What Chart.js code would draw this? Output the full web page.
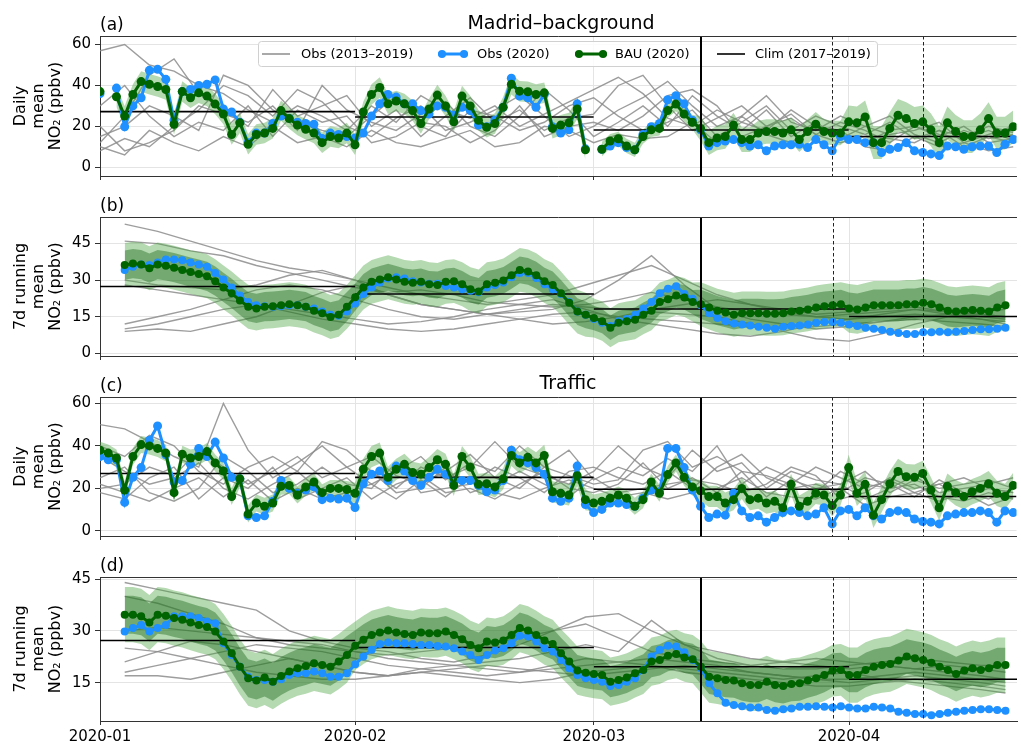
<!DOCTYPE html>
<html>
<head>
<meta charset="utf-8">
<script src="https://cdn.jsdelivr.net/npm/chart.js@4.4.1/dist/chart.umd.min.js"></script>
<style>
  body { margin: 0; background: #fff; width: 1021px; height: 743px; overflow: hidden; position: relative; }
  canvas { position: absolute; left: 0; }
</style>
</head>
<body>
<canvas id="pa" width="1021" height="189" style="top:0px"></canvas>
<canvas id="pb" width="1021" height="179" style="top:190px"></canvas>
<canvas id="pc" width="1021" height="179" style="top:370px"></canvas>
<canvas id="pd" width="1021" height="193" style="top:550px"></canvas>
<script>
// x axis is "days since 2020-01-01"
const monthTicks = [0, 31, 60, 91];
const monthLabels = ['2020-01', '2020-02', '2020-03', '2020-04'];
const monthEdges = [0, 31, 60, 91, 111.4];
const lockdownDay = 73;        // 2020-03-14
const phaseDays = [89, 100];   // dashed markers
const years = ['2013', '2014', '2015', '2016', '2017', '2018', '2019'];
const legendLabels = ['Obs (2013\u20132019)', 'Obs (2020)', 'BAU (2020)', 'Clim (2017\u20132019)'];

// gray lines (older years) sampled every few days
const grayDailyDays = [0,3,6,9,12,15,18,21,24,27,30,33,36,39,42,45,48,51,54,57,60,63,66,69,72,75,78,81,84,87,90,93,96,99,102,105,108,111];
const graySmoothDays = [3,7,11,15,19,23,27,31,35,39,43,47,51,55,59,63,67,71,75,79,83,87,91,95,99,103,107,110];

// ---------- (a) Madrid background, daily mean, days 0..111
const bauA = [
  37,null,34.5,25,35.6,41.9,40.6,39.5,38,21,
  37,34,36.4,34.8,30.9,26,16,21.7,11.2,16,
  16.7,19,27.7,23.8,20.6,18.6,16.7,12,15,14.3,
  16.7,11,27,35.6,39,31,32.4,31,27.7,21.4,
  28.5,35.3,30,22.2,34.8,30,23,19.5,21.4,29.3,
  40.6,37.2,36.9,35.6,36.4,19,20.6,21.7,28.5,8.5,
  null,8.8,12.8,13.9,10.4,8.5,15,18.3,19,27.7,
  30.9,26,22,19,12,14.3,15,20.6,13.5,13.5,
  16.7,17.5,17.5,16.7,18.3,13.5,17.5,21,17.5,16.7,
  16.7,22.2,21.7,24.6,12,12,19,25.4,23.8,21.4,
  22.2,18.3,12,21.7,17.5,15,15,18.3,23.8,16.7,
  16.7,19.8];
const obsA = [
  36,null,38.7,19.8,30,34,47.4,47.9,43,23,
  37,38,40,40.6,42.7,28.5,27,22,12,16.7,
  16.7,21.4,25,24,22,21.4,21,14,16.7,16,
  15,14.3,16.7,25,31,35.6,34.3,31,31,27.7,
  26,30,29.3,25.4,29.3,27.7,20.6,19.8,23,29.3,
  43.5,34.8,34,29.3,35.6,19.8,16.7,18.3,31,9,
  null,8.8,10.4,12,9.6,8.5,16,19.8,21.4,33,
  35,31,23,18.3,10.4,12,12.8,13.5,12,10.4,
  11,8,10.4,11,11,11.2,9.6,13.5,11,8,
  15,13.5,13.5,12,12,7.2,8.8,9.6,12,8,
  7.2,6.5,5.7,10.4,10,8.8,10,10.4,10.4,7.2,
  11.2,13.5];
const climA = [27.2, 24.6, 18.2, 15];
const grayA = [
  [57,60,50,47,40,36,28,22,30,25, 18,30,22,35,28,24,30,20,26,32, 38,44,36,24,20,28,22,30,18,25, 20,16,22,14,18,15,20,17],
  [12,25,45,53,36,28,20,38,25,30, 35,20,28,15,25,34,22,28,18,24, 26,40,45,30,18,24,30,20,26,16, 22,18,12,20,16,14,18,13],
  [8,14,10,20,28,40,35,25,38,32, 20,15,24,30,18,22,28,35,25,15, 20,28,34,42,30,20,25,35,22,18, 25,20,16,18,22,12,16,20],
  [20,8,12,18,30,26,22,30,18,40, 28,22,18,26,32,20,15,25,38,28, 15,22,30,20,35,25,18,28,15,22, 14,20,25,16,12,18,14,16],
  [15,20,30,25,18,45,40,28,22,18, 15,25,35,20,15,28,25,18,22,30, 34,25,18,22,28,15,22,18,28,20, 16,12,18,20,15,20,12,14],
  [30,40,25,15,22,18,30,15,28,22, 25,12,15,22,20,12,18,30,15,20, 22,18,25,35,38,30,15,20,24,16, 12,15,14,12,18,10,15,12],
  [10,6,18,12,8,15,10,20,12,15, 10,18,12,10,14,18,10,12,20,18, 12,16,14,15,22,12,25,16,12,20, 18,10,8,15,10,12,8,10]];

// ---------- (b) Madrid background, 7 d running mean, days 3..110
const bauB = [
  36.2,36.8,36.4,34.9,36.4,35.9,35.1,34.2,33.3,32.5,
  31.6,29.6,27,24.6,21.7,19.1,18.4,19.1,19.3,19.7,
  20.1,19.7,19.1,17.5,16.4,14.9,15.8,19.1,23,27,
  29.3,30.3,31.2,30.3,29.3,28.9,29.3,28.3,28,29.3,
  29.6,28.3,26.3,25.4,28.3,28.9,29.9,32,34.2,33.6,
  32,29.6,28,24.6,20.7,17.1,15.8,14.5,13.2,10.5,
  12.5,13.2,13.8,15.8,17.5,21,22.2,23.7,22.9,21,
  20.1,18.8,17.5,16.7,15.8,16.4,16.4,16.4,16.2,16.2,
  16.4,17.1,17.5,18,18.8,19.3,19.7,20.1,18.4,18,
  18.8,19.7,19.7,19.7,19.7,20.1,20.1,20.7,20.1,18.8,
  17.5,17.1,17.5,17.8,17.5,17.1,18.8,19.7];
const obsB = [
  34.2,35.5,36.4,36.2,37.2,38.5,38.5,38.2,37.2,36.4,
  35.5,32.9,30.3,27,23.7,21,19.7,19.3,19.1,19.3,
  19.7,19.7,19.1,18.4,17.1,15.8,15.4,17.1,20.4,24.3,
  27,29,30.7,31.2,30.7,29.6,29,28.5,28.5,27.6,
  27,26.3,25.7,25,27,28,29,31.2,32.9,32.9,
  30.9,28.3,26.3,24.3,21,17.1,15.8,14.1,12.5,11.2,
  13.2,14.1,15.8,18.4,21,24.6,26.5,27.5,24.3,22.4,
  19.7,16.4,14.5,13.2,12.2,11.8,11.4,10.9,10.5,10.1,
  10.9,11.2,11.4,11.8,12.5,12.8,12.8,12.5,11.8,11.2,
  10.5,10.1,9.6,8.8,8.3,7.9,7.9,8.6,8.6,8.8,
  8.6,8.8,9.2,9.6,9.9,9.9,10.1,10.5];
const climB = [27.4, 24.3, 18.2, 15.1];
const grayB = [
  [53,50,46,42,38,35,33,30,27,24, 22,20,22,24,28,32,36,30,24,20, 17,15,14,15,16,15,14,13],
  [46,45,42,40,36,33,30,27,25,26, 24,21,20,19,20,22,25,22,19,17, 16,15,16,17,18,17,16,15],
  [30,28,27,26,28,32,34,30,24,20, 18,16,17,18,22,30,40,28,18,14, 12,10,11,13,15,16,17,18],
  [12,15,18,22,26,28,26,22,18,15, 14,16,18,20,19,18,17,16,15,12, 9,6,5,8,12,15,16,15],
  [9,10,9,12,15,20,25,28,24,20, 18,16,14,12,13,15,18,20,22,20, 18,16,17,18,19,17,15,14],
  [10,12,15,18,20,18,16,14,12,13, 15,18,20,22,18,14,12,10,8,7, 9,12,14,16,18,16,14,12],
  [28,26,24,22,20,17,14,12,10,9, 10,12,14,16,17,15,14,13,12,11, 10,11,12,13,14,13,12,11]];

// ---------- (c) Traffic, daily mean, days 0..111
const bauC = [
  38,36.6,34.3,19.2,35,40.6,40,38.8,36.6,18,
  36.1,34.3,35,37.3,32,28.2,16.2,24.5,7.9,13.1,
  11.6,13.1,21,21.4,16.9,20.7,23,18,20,20,
  19.5,17.7,29,35,36.6,25.2,29,31.3,27.5,26.7,
  29.8,33.5,31.3,21.4,35,30,21.9,22.2,20.7,24.5,
  35.5,32,34.6,32,35.5,18.4,17.7,16.9,26,14.7,
  13.1,13.9,15.4,16.9,15.4,11.6,14.7,23,17.7,26.5,
  32,25.2,20.7,18.9,16.2,16.2,13.1,14.7,20,14.7,
  15.4,13.1,13.9,10.9,21.9,11.6,13.9,17.7,16.9,11.9,
  16.9,29.8,17.7,21.9,7.4,14.7,22.2,28,25.5,25.2,
  27,19.2,10.9,21,18,16.2,18.4,20,22.2,17.7,
  16.2,21.4];
const obsC = [
  35,33.5,33.5,13.4,25.2,29.8,42.6,49.4,35.8,23,
  23.7,31.3,38.8,35,41.8,34.3,25.2,24.5,7.1,6.3,
  7.1,13.9,23.7,20,17.7,19.2,20.7,14.7,15.4,15,
  15.4,11,22.2,26.7,28.2,23.7,30.5,28.2,23.7,21.4,
  25.2,29,26.7,23,23.7,23.7,21.4,18.4,19.2,23.7,
  38,33.5,32,29.8,26.7,15.4,13.9,15.4,30.5,12.4,
  8.6,10.1,13.1,13.1,12.4,11.6,15.4,19.2,18.4,38.8,
  38.8,29.8,19.2,11.6,6.3,7.9,7.4,17.7,9.4,6.3,
  7.1,4.1,6.3,8.6,9.4,8.6,7.1,7.9,10.9,3.3,
  9.4,10.1,7.1,10.9,7.1,5.6,8.6,9.4,8.6,5.6,
  4.4,4.1,3.3,7.1,7.9,8.6,8.6,9.4,8.6,4.1,
  9.4,8.6];
const climC = [27, 25.2, 19.6, 16.2];
const grayC = [
  [50,48,42,35,30,60,38,25,32,40, 30,22,28,35,24,32,28,40,30,26, 22,24,38,42,30,35,28,26,22,30, 25,20,24,18,22,25,20,18],
  [40,35,45,40,28,22,30,35,28,42, 38,28,20,30,25,30,42,30,26,22, 28,40,30,25,38,28,32,20,28,24, 22,28,18,24,20,22,24,20],
  [20,22,30,26,38,30,22,28,35,25, 30,35,26,22,28,36,25,20,30,38, 24,30,26,34,28,40,22,30,25,18, 28,22,20,26,18,20,22,25],
  [25,30,18,14,20,35,28,18,22,30, 22,20,32,18,20,22,30,25,18,28, 30,25,22,28,20,30,36,25,20,22, 18,25,22,16,24,18,15,20],
  [18,15,25,30,15,25,20,30,15,20, 25,15,22,26,18,20,15,22,28,20, 18,22,32,20,25,18,28,16,24,20, 22,15,20,22,16,14,18,15],
  [35,28,22,25,32,20,15,22,28,18, 15,28,18,20,30,18,22,28,22,16, 25,18,20,22,24,22,18,22,30,26, 15,18,25,20,22,16,20,18],
  [22,18,14,20,25,16,24,14,20,15, 18,22,15,24,16,25,18,15,20,24, 20,16,18,15,18,20,25,18,16,15, 20,12,16,18,14,18,12,16]];

// ---------- (d) Traffic, 7 d running mean, days 3..110
const bauD = [
  34.7,34.7,34.2,32.4,34.7,34.4,33.7,33.2,32.4,31.7,
  31.1,29.8,26.9,23.5,19.6,16.3,15.6,16.5,15.3,16.9,
  18.2,19.2,19.8,20.6,20.1,19.6,21.1,23,25.7,27.4,
  28.8,29.5,30.1,29.5,29.1,28.8,29.5,29.3,29.3,29.8,
  28.8,27.6,25.9,25,26.9,26.6,27.2,28.8,30.8,30.1,
  28.8,27.2,26.2,23.5,21.1,18.5,17.9,17.5,17.2,15.3,
  15.8,16.5,17.7,18.7,21.1,21.6,22.8,23.3,22.3,21.8,
  19.6,16.7,16.3,15.8,15.6,14.8,14.3,14.3,15.3,14.3,
  14,14.6,14.8,15.6,16.3,17.2,18.5,18.7,17.2,17.2,
  18.7,19.6,20.1,20.4,21.4,22.6,22.1,21.6,20.8,19.6,
  18.7,17.5,18.5,19.2,18.7,19.2,20.1,20.1];
const obsD = [
  29.8,30.8,31.7,29.8,30.8,31.7,34.2,34.2,34.2,33.7,
  32.7,32.2,26.4,23,19.6,16.7,15.8,15.8,15.3,16,
  17.2,17.7,17.7,18.2,17.7,16.7,16.7,17.7,20.3,22.6,
  24.5,26.2,26.6,26.4,26.4,26.2,25.9,25.9,25.6,25.5,
  25,24,23,21.6,23,24.3,25,26.4,28.6,28.4,
  26.9,25,24,21.6,19.2,17.2,16.3,15.8,15.3,14,
  14.3,15.3,16.3,18.7,22.6,24.5,25.7,25.5,23.8,21.6,
  19.2,14.8,11.9,9.2,8.5,8.2,7.8,7.8,7.1,6.9,
  7.3,7.5,8,8,8.2,8,7.8,8.2,7.8,7.5,
  7.5,8,7.8,7.5,6.6,6.3,5.9,5.9,5.6,5.9,
  6.3,6.6,6.9,7.1,7.3,7.3,7.1,6.9];
const climD = [27.2, 25.2, 19.6, 16];
const grayD = [
  [44,42,40,38,36,30,27,25,24,22, 21,23,26,30,34,35,30,26,24,22, 21,20,19,20,19,18,17,16],
  [40,38,35,32,28,26,25,24,23,24, 25,26,28,30,32,28,24,22,21,20, 21,22,21,20,19,20,19,18],
  [30,31,30,29,28,27,26,24,22,21, 20,21,22,24,26,24,33,26,22,20, 19,19,20,21,22,21,20,20],
  [21,24,27,26,24,22,20,18,17,19, 20,19,18,19,20,21,22,21,20,18, 17,16,16,17,18,17,16,15],
  [18,20,22,24,26,25,24,22,20,19, 18,17,18,20,22,21,20,19,18,17, 16,17,18,16,15,14,13,12],
  [17,17,16,18,20,22,20,18,17,18, 19,20,19,18,17,18,19,20,19,18, 17,16,15,16,17,16,15,14],
  [25,24,22,20,18,17,16,16,17,18, 17,16,15,16,18,19,20,18,17,16, 15,14,14,15,16,15,14,13]];

// BAU uncertainty half-widths by period (periods start at these days)
const spreadStarts = [0, 31, 60, 73, 91];
const spreadA = [5, 5, 3.5, 6, 8];
const spreadC = [4, 5, 4, 5, 6];
const spreadBOuter = [9, 9, 8, 9, 10];
const spreadBInner = [6, 5.5, 5, 6, 6.5];
const spreadDOuter = [8, 7, 7, 7.5, 8];
const spreadDInner = [5.5, 4.5, 4.5, 5, 5];

const BLUE = '#1e90ff', GREEN = '#006400', GRAY = 'rgba(140,140,140,0.85)', GRID = '#e4e4e4';
const BAND_LIGHT = 'rgba(70,160,60,0.4)', BAND_DARK = 'rgba(20,100,20,0.4)';

Chart.defaults.font.family = '"DejaVu Sans"';
Chart.defaults.font.size = 15;
Chart.defaults.color = '#000';

function pts(vals, start) { return vals.map((v, i) => ({x: start + i, y: v})); }
function grayPts(vals, days) { return vals.map((v, i) => ({x: days[i], y: v})); }
function climPts(vals) {
  const out = [];
  vals.forEach((v, i) => {
    if (i) out.push({x: monthEdges[i], y: null});
    out.push({x: monthEdges[i], y: v}, {x: monthEdges[i + 1], y: v});
  });
  return out;
}
function spreadAt(day, arr) {
  let k = 0;
  spreadStarts.forEach((s, i) => { if (day >= s) k = i; });
  return arr[k];
}
function bandPts(vals, start, spread, sign) {
  return vals.map((v, i) => ({x: start + i, y: v == null ? null : v + sign * spreadAt(start + i, spread)}));
}

function makeDatasets(p) {
  const ds = [];
  ds.push({data: pts(p.bau, p.start), borderColor: GREEN, backgroundColor: GREEN,
    borderWidth: 3, pointRadius: p.r, pointBorderWidth: 0, order: 1});
  ds.push({data: pts(p.obs, p.start), borderColor: BLUE, backgroundColor: BLUE,
    borderWidth: 3, pointRadius: p.r, pointBorderWidth: 0, order: 2});
  ds.push({data: climPts(p.clim), borderColor: '#000', borderWidth: 1.6, pointRadius: 0, order: 3});
  p.bands.forEach((b, k) => {
    ds.push({data: bandPts(p.bau, p.start, b.w, -1), borderWidth: 0, pointRadius: 0, fill: false, order: 5 - k});
    ds.push({data: bandPts(p.bau, p.start, b.w, 1), borderWidth: 0, pointRadius: 0, fill: '-1',
      backgroundColor: b.color, order: 5 - k});
  });
  p.gray.forEach(g => ds.push({data: grayPts(g, p.grayDays), borderColor: GRAY, borderWidth: 1.4,
    pointRadius: 0, order: 10}));
  return ds;
}

const decor = {
  id: 'decor',
  afterDatasetsDraw(chart, args, o) {
    const {ctx, chartArea: a, scales: {x}} = chart;
    ctx.save();
    if (o.legend) drawLegend(ctx);
    ctx.strokeStyle = '#000';
    ctx.lineWidth = 2;
    let px = Math.round(x.getPixelForValue(lockdownDay));
    ctx.beginPath(); ctx.moveTo(px, a.top); ctx.lineTo(px, a.bottom); ctx.stroke();
    ctx.strokeStyle = '#222';
    ctx.lineWidth = 1;
    ctx.setLineDash([3.5, 2.5]);
    phaseDays.forEach(d => {
      const q = Math.round(x.getPixelForValue(d)) + 0.5;
      ctx.beginPath(); ctx.moveTo(q, a.top); ctx.lineTo(q, a.bottom); ctx.stroke();
    });
    ctx.setLineDash([]);
    ctx.strokeStyle = '#333';
    ctx.beginPath(); ctx.moveTo(a.left, a.top + 0.5); ctx.lineTo(a.right, a.top + 0.5); ctx.stroke();
    ctx.fillStyle = '#000';
    ctx.textAlign = 'left';
    ctx.textBaseline = 'alphabetic';
    ctx.font = '17px "DejaVu Sans"';
    ctx.fillText(o.tag, a.left, a.top - 6);
    if (o.title) {
      ctx.font = '19px "DejaVu Sans"';
      ctx.textAlign = 'center';
      ctx.fillText(o.title, o.titleX, a.top - o.titleGap);
    }
    ctx.restore();
  }
};

function drawLegend(ctx) {
  ctx.fillStyle = 'rgba(255,255,255,0.85)';
  ctx.strokeStyle = '#d0d0d0';
  ctx.lineWidth = 1;
  ctx.beginPath(); ctx.roundRect(258.5, 41.5, 619, 25, 3); ctx.fill(); ctx.stroke();
  const items = [
    {x1: 262, x2: 290, color: 'rgb(140,140,140)', lw: 1.5, dots: false, tx: 301},
    {x1: 438, x2: 468, color: BLUE, lw: 3, dots: true, tx: 477},
    {x1: 575, x2: 607, color: GREEN, lw: 3, dots: true, tx: 615},
    {x1: 717, x2: 745, color: '#000', lw: 1.6, dots: false, tx: 755}];
  const y = 54;
  ctx.font = '13px "DejaVu Sans"';
  ctx.textBaseline = 'middle';
  ctx.textAlign = 'left';
  items.forEach((it, i) => {
    ctx.strokeStyle = it.color; ctx.lineWidth = it.lw;
    ctx.beginPath(); ctx.moveTo(it.x1, y); ctx.lineTo(it.x2, y); ctx.stroke();
    if (it.dots) {
      ctx.fillStyle = it.color;
      [it.x1 + 4, it.x2 - 4].forEach(cx => { ctx.beginPath(); ctx.arc(cx, y, 4, 0, Math.PI * 2); ctx.fill(); });
    }
    ctx.fillStyle = '#000';
    ctx.fillText(legendLabels[i], it.tx, y + 1);
  });
}

function makeChart(id, p) {
  new Chart(document.getElementById(id), {
    type: 'line',
    data: {datasets: makeDatasets(p)},
    plugins: [decor],
    options: {
      responsive: false,
      animation: false,
      events: [],
      layout: {padding: {top: p.padTop, left: 0, right: 0, bottom: 0}},
      plugins: {legend: {display: false}, tooltip: {enabled: false}, decor: p.decor},
      scales: {
        x: {
          type: 'linear', min: 0, max: monthEdges[4],
          afterBuildTicks: s => { s.ticks = monthTicks.map(v => ({value: v})); },
          afterFit: s => { s.height = p.xH; },
          ticks: {display: p.showX, autoSkip: false, maxRotation: 0, padding: 3,
            callback: (v, i) => monthLabels[i]},
          grid: {color: GRID, tickColor: '#333', tickLength: 4},
          border: {color: '#333', width: 1}
        },
        y: {
          min: p.yMin, max: p.yMax,
          afterBuildTicks: s => { s.ticks = p.yTicks.map(v => ({value: v})); },
          afterFit: s => { s.width = 100; },
          ticks: {padding: 4},
          grid: {color: GRID, tickColor: '#333', tickLength: 5},
          border: {color: '#333', width: 1},
          title: {display: true, text: p.yTitle, font: {size: 16, lineHeight: 1.1},
            padding: {top: 12, bottom: 0}}
        }
      }
    }
  });
}

const dailyTitle = ['Daily', 'mean', 'NO\u2082 (ppbv)'];
const smoothTitle = ['7d running', 'mean', 'NO\u2082 (ppbv)'];

makeChart('pa', {bau: bauA, obs: obsA, start: 0, r: 4.5, clim: climA, gray: grayA, grayDays: grayDailyDays,
  bands: [{w: spreadA, color: BAND_LIGHT}], padTop: 36, xH: 8, showX: false,
  yMin: -4.3, yMax: 64.2, yTicks: [0, 20, 40, 60], yTitle: dailyTitle,
  decor: {tag: '(a)', title: 'Madrid\u2013background', titleX: 561, titleGap: 7, legend: true}});
makeChart('pb', {bau: bauB, obs: obsB, start: 3, r: 4, clim: climB, gray: grayB, grayDays: graySmoothDays,
  bands: [{w: spreadBOuter, color: BAND_LIGHT}, {w: spreadBInner, color: BAND_DARK}], padTop: 27, xH: 8, showX: false,
  yMin: -1.1, yMax: 55.9, yTicks: [0, 15, 30, 45], yTitle: smoothTitle,
  decor: {tag: '(b)'}});
makeChart('pc', {bau: bauC, obs: obsC, start: 0, r: 4.5, clim: climC, gray: grayC, grayDays: grayDailyDays,
  bands: [{w: spreadC, color: BAND_LIGHT}], padTop: 27, xH: 8, showX: false,
  yMin: -2.4, yMax: 63, yTicks: [0, 20, 40, 60], yTitle: dailyTitle,
  decor: {tag: '(c)', title: 'Traffic', titleX: 568, titleGap: 8}});
makeChart('pd', {bau: bauD, obs: obsD, start: 3, r: 4, clim: climD, gray: grayD, grayDays: graySmoothDays,
  bands: [{w: spreadDOuter, color: BAND_LIGHT}, {w: spreadDInner, color: BAND_DARK}], padTop: 27, xH: 22, showX: true,
  yMin: 3.9, yMax: 45.6, yTicks: [15, 30, 45], yTitle: smoothTitle,
  decor: {tag: '(d)'}});
</script>
</body>
</html>
